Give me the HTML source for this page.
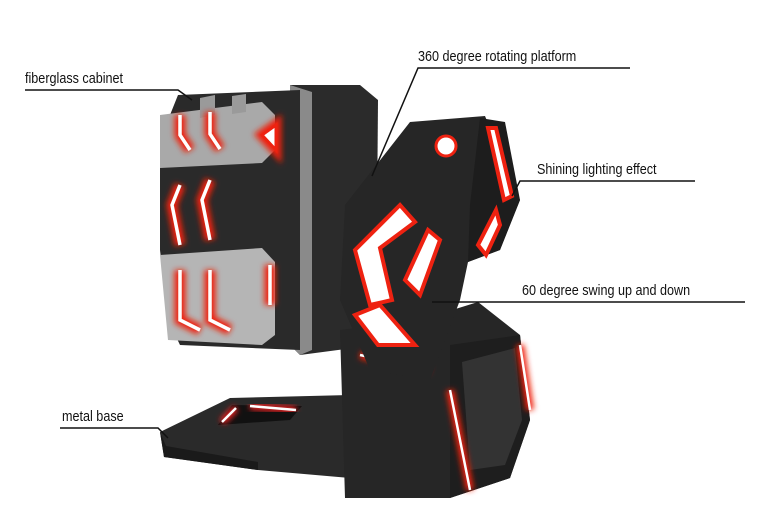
<!DOCTYPE html>
<html><head><meta charset="utf-8"><style>
html,body{margin:0;padding:0;background:#fff;}
body{width:771px;height:522px;overflow:hidden;position:relative;}
.t{position:absolute;font-family:"Liberation Sans",sans-serif;font-size:15px;color:#111;white-space:nowrap;transform-origin:left top;transform:scaleX(0.84);}
svg{position:absolute;left:0;top:0;}
</style></head><body>
<svg width="771" height="522" viewBox="0 0 771 522">
<defs>
<filter id="g" x="-50%" y="-50%" width="200%" height="200%"><feGaussianBlur stdDeviation="3"/></filter>
</defs>
<polygon points="160,432 230,398 350,395 350,478 258,470 164,457" fill="#2a2a2a"/>
<polygon points="160,432 164,457 258,470 258,462 166,446" fill="#1a1a1a"/>
<polygon points="218,425 232,405 302,406 290,420" fill="#111"/>
<line x1="222" y1="422" x2="236" y2="408" stroke="#e22" stroke-width="7" filter="url(#g)"/>
<line x1="222" y1="422" x2="236" y2="408" stroke="#fff" stroke-width="2.5"/>
<line x1="250" y1="406" x2="296" y2="410" stroke="#e22" stroke-width="7" filter="url(#g)"/>
<line x1="250" y1="406" x2="296" y2="410" stroke="#fff" stroke-width="2.5"/>
<polygon points="290,85 360,85 378,100 376,345 300,355 290,345" fill="#2b2b2b"/>
<polygon points="290,85 312,92 312,350 300,355 290,345" fill="#8a8a8a"/>
<polygon points="178,95 300,90 300,350 180,345 168,320 160,250 160,140" fill="#2a2a2a"/>
<polygon points="160,115 262,102 275,115 275,150 262,163 160,168" fill="#a9a9a9"/>
<polygon points="160,255 262,248 275,262 275,335 262,345 168,340" fill="#b5b5b5"/>
<polygon points="200,98 215,95 215,115 200,118" fill="#9a9a9a"/>
<polygon points="232,96 246,94 246,112 232,114" fill="#9a9a9a"/>
<g stroke="#e21" stroke-width="11" fill="none" filter="url(#g)">
<path d="M180,115 v20 l10,15 M210,112 v22 l10,15"/>
<path d="M180,185 l-8,20 l8,40 M210,180 l-8,20 l8,40"/>
<path d="M180,270 v50 l20,10 M210,270 v50 l20,10"/>
<path d="M262,135 l14,-10 v25 z"/>
<path d="M270,265 v40"/>
</g>
<g stroke="#fff" stroke-width="3.5" fill="none">
<path d="M180,115 v20 l10,15 M210,112 v22 l10,15"/>
<path d="M180,185 l-8,20 l8,40 M210,180 l-8,20 l8,40"/>
<path d="M180,270 v50 l20,10 M210,270 v50 l20,10"/>
<path d="M270,265 v40"/>
</g>
<polygon points="262,135 276,125 276,150" fill="#fff" stroke="#e21" stroke-width="3"/>
<polygon points="340,330 420,320 478,302 520,335 530,420 510,478 450,498 345,498" fill="#262626"/>
<polygon points="450,345 520,335 530,420 510,478 450,498" fill="#1e1e1e"/>
<polygon points="462,362 515,348 522,420 505,465 470,470" fill="#333"/>
<g stroke="#e21" stroke-width="8" filter="url(#g)"><line x1="450" y1="390" x2="470" y2="490"/><line x1="520" y1="345" x2="530" y2="410"/><line x1="360" y1="355" x2="430" y2="370"/></g>
<g stroke="#fff" stroke-width="2.5"><line x1="450" y1="390" x2="470" y2="490"/><line x1="520" y1="345" x2="530" y2="410"/><line x1="360" y1="355" x2="430" y2="370"/></g>
<polygon points="345,205 410,122 485,116 520,200 500,250 468,262 460,300 430,380 370,370 340,300" fill="#262626"/>
<polygon points="480,118 505,122 520,200 500,250 468,262 470,205" fill="#1d1d1d"/>
<circle cx="446" cy="146" r="10" fill="#fff" stroke="#e21" stroke-width="3"/>
<g fill="#fff" stroke="#e21" stroke-width="4">
<polygon points="355,250 400,205 415,222 380,248 392,300 370,305"/>
<polygon points="405,280 428,230 440,240 420,295"/>
<polygon points="355,315 380,305 415,345 378,345"/>
<polygon points="488,128 496,128 512,196 504,200"/>
<polygon points="478,245 496,210 500,225 486,255"/>
</g>
<g stroke="#111" stroke-width="1.5" fill="none">
<polyline points="25,90 178,90 192,100"/>
<polyline points="630,68 418,68 372,176"/>
<polyline points="695,181 520,181 512,196"/>
<polyline points="745,302 432,302"/>
<polyline points="60,428 158,428 168,438"/>
</g>
</svg>
<div class="t" style="left:25px;top:70px">fiberglass cabinet</div>
<div class="t" style="left:418px;top:48px">360 degree rotating platform</div>
<div class="t" style="left:537px;top:161px">Shining lighting effect</div>
<div class="t" style="left:522px;top:282px">60 degree swing up and down</div>
<div class="t" style="left:62px;top:408px">metal base</div>
</body></html>
